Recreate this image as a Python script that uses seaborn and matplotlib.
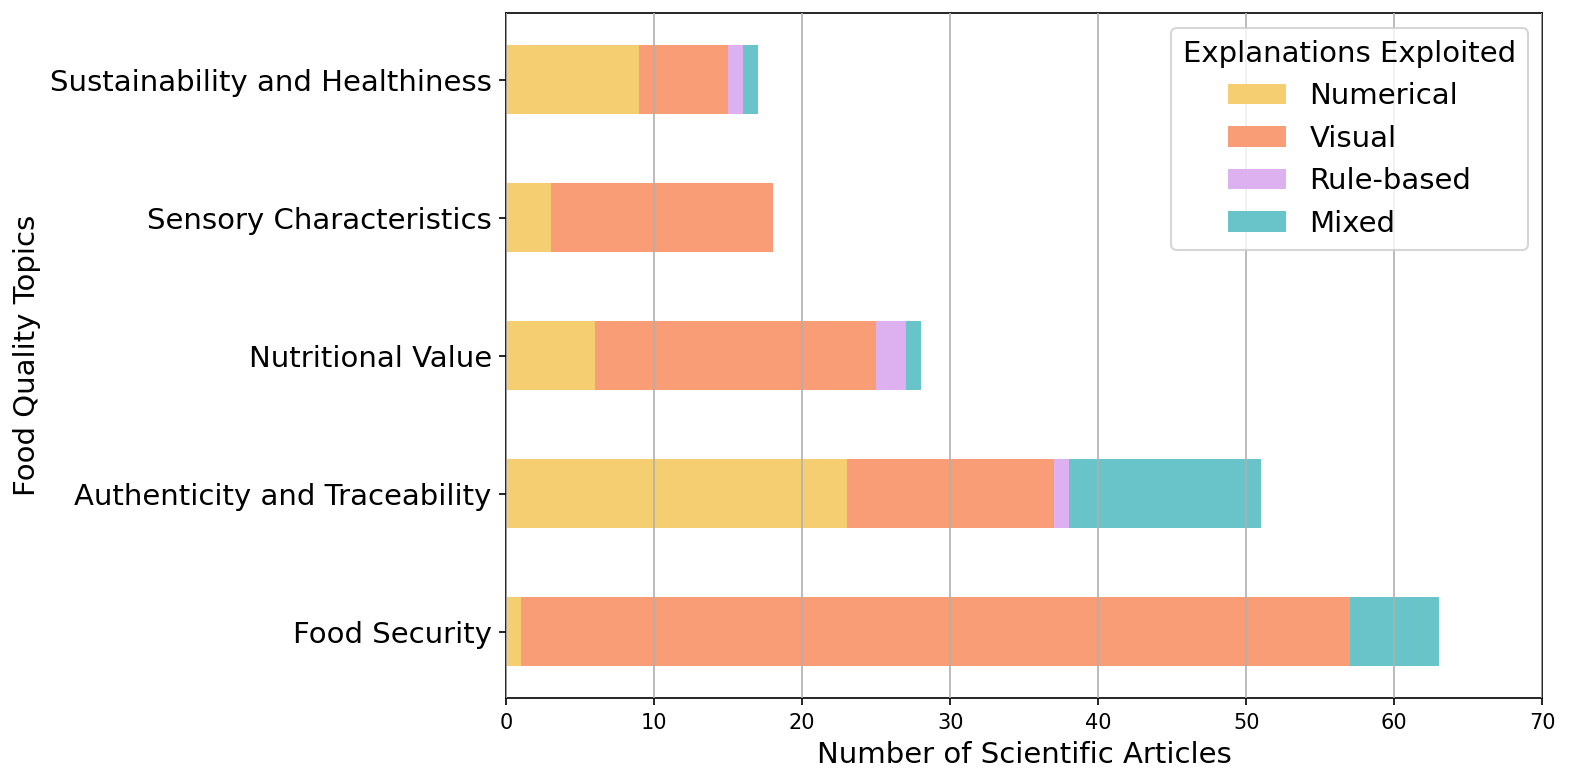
import numpy as np
import pandas as pd
import seaborn as sns
import matplotlib.pyplot as plt
from matplotlib.patches import Patch

topics = [
    "Sustainability and Healthiness",
    "Sensory Characteristics",
    "Nutritional Value",
    "Authenticity and Traceability",
    "Food Security",
]
series_names = ["Numerical", "Visual", "Rule-based", "Mixed"]
numerical = [9, 3, 6, 23, 1]
visual = [6, 15, 19, 14, 56]
rule_based = [1, 0, 2, 1, 0]
mixed = [1, 0, 1, 13, 6]
colors = ["#F5CE72", "#F89D76", "#DDB0F0", "#68C4C9"]

df = pd.DataFrame(
    {"Numerical": numerical, "Visual": visual, "Rule-based": rule_based, "Mixed": mixed},
    index=topics,
)
cum = df.cumsum(axis=1)

fig, ax = plt.subplots(figsize=(1577 / 150, 780 / 150), dpi=150)

# stacked bars: draw cumulative totals from the last series to the first
for name, color in reversed(list(zip(series_names, colors))):
    sns.barplot(x=cum[name].values, y=topics, orient="h", color=color,
                width=0.5, saturation=1, ax=ax, linewidth=0)

ax.set_xlim(0, 70)
ax.set_xticks(np.arange(0, 71, 10))
ax.set_ylim(len(topics) - 0.52, -0.48)
ax.grid(axis="x", color="#b0b0b0", linewidth=0.8)
ax.set_axisbelow(False)
ax.tick_params(axis="y", labelsize=14)
ax.tick_params(axis="x", labelsize=10)
ax.set_xlabel("Number of Scientific Articles", fontsize=14)
ax.set_ylabel("Food Quality Topics", fontsize=14)

handles = [Patch(facecolor=c, label=n) for n, c in zip(series_names, colors)]
ax.legend(handles=handles, title="Explanations Exploited", loc="upper right",
          fontsize=14, title_fontsize=14)

fig.subplots_adjust(left=0.321, right=0.978, top=0.983, bottom=0.105)
fig.savefig("out.png", dpi=150)
